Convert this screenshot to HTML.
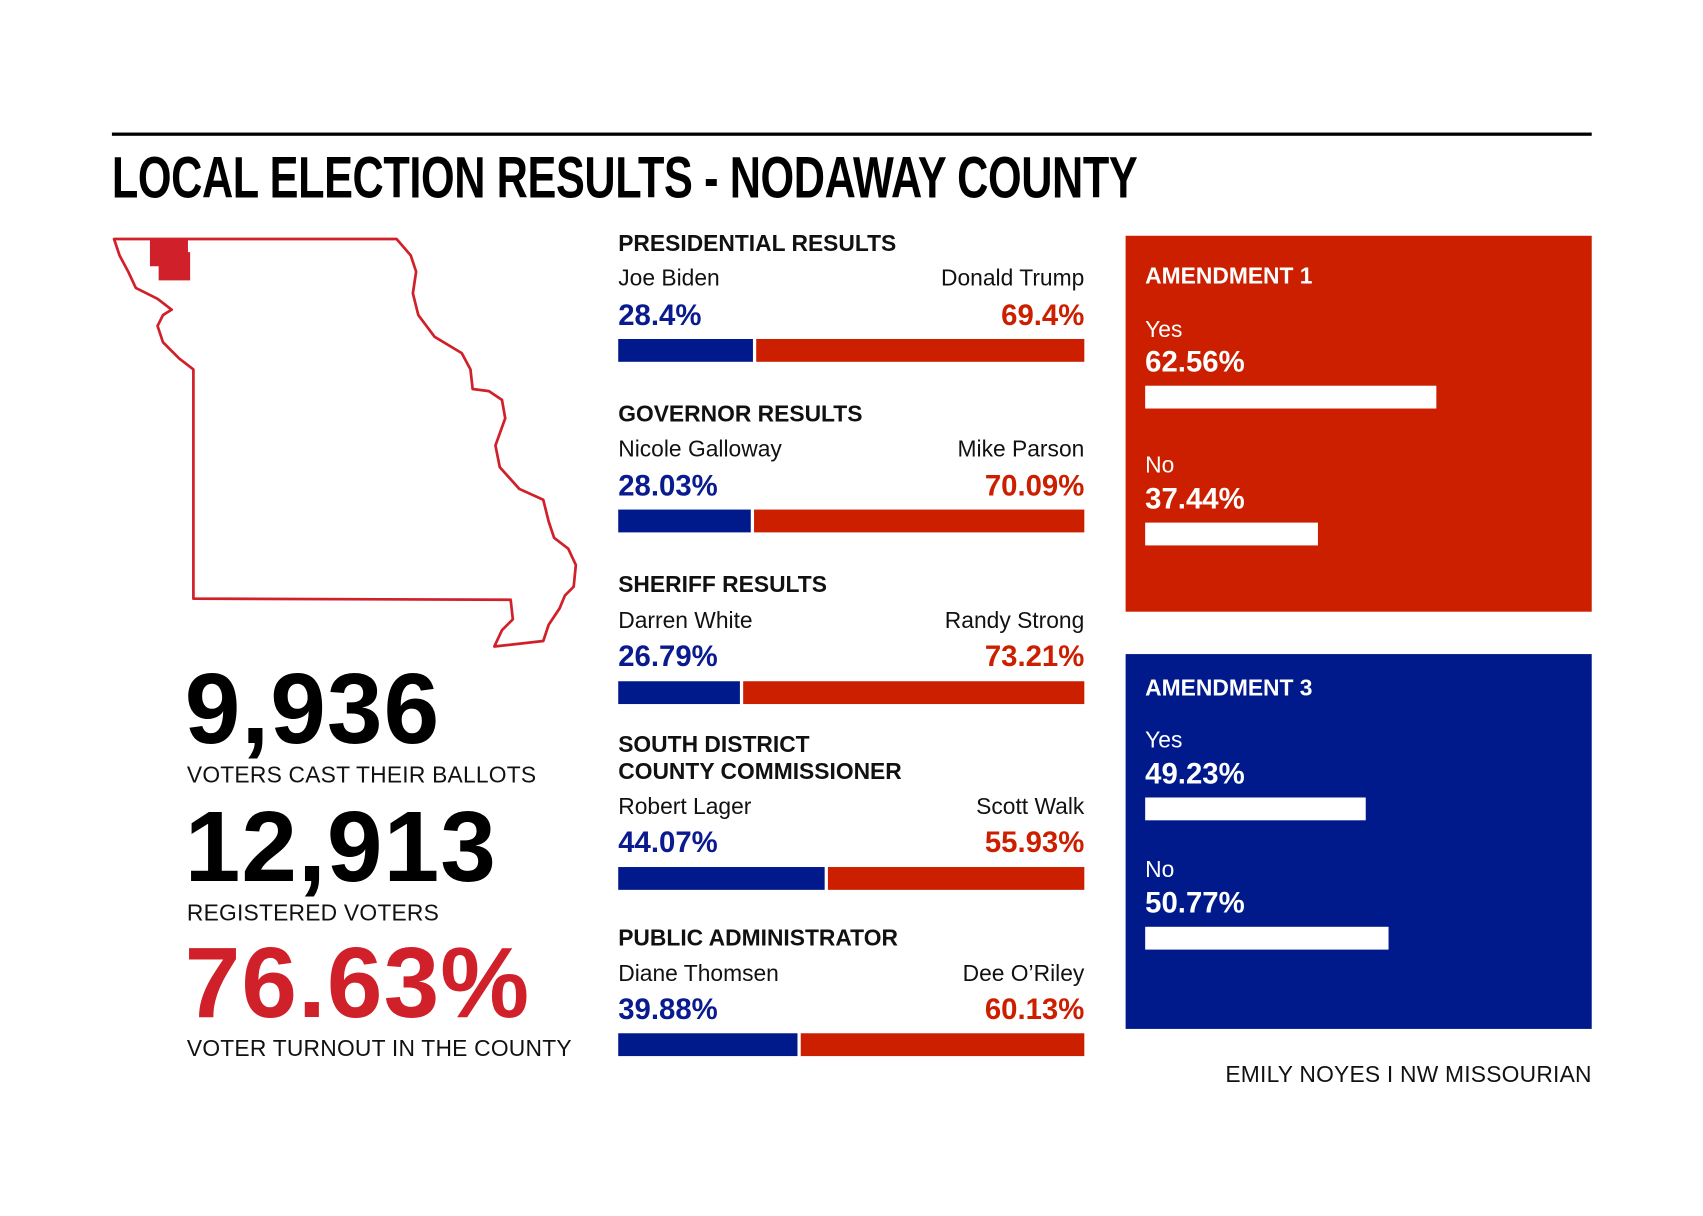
<!DOCTYPE html>
<html><head><meta charset="utf-8"><style>
html,body{margin:0;padding:0;background:#fff;}
body{width:1703px;height:1216px;overflow:hidden;position:relative;}
#c{position:absolute;left:0;top:0;width:1560px;height:1114px;transform:scale(1.0865);transform-origin:0 0;font-family:"Liberation Sans",Arial,sans-serif;}
.t{position:absolute;white-space:nowrap;line-height:1;}
.h{font-weight:bold;font-size:21px;color:#111;}
.n{font-size:21px;color:#111;}
.p{font-weight:bold;font-size:27px;}
.b{color:#0a1a8f;} .r{color:#cc1f00;}
.bar{position:absolute;height:21px;}
.bb{background:#001a8c;} .rb{background:#cc1f00;}
.big{font-weight:bold;font-size:92px;letter-spacing:1px;color:#000;}
.lab{font-size:21px;color:#111;letter-spacing:0.2px;}
.w{color:#fff;}
.wb{position:absolute;background:#fff;height:21px;left:1054px;}
</style></head><body><div id="c">
<div style="position:absolute;left:103px;top:122px;width:1362px;height:3px;background:#000"></div>
<div class="t" style="left:103px;top:137px;font-weight:bold;font-size:54px;transform:scaleX(0.737);transform-origin:0 0;letter-spacing:-0.5px">LOCAL ELECTION RESULTS - NODAWAY COUNTY</div>

<svg style="position:absolute;left:0;top:0" width="560" height="610">
<polygon fill="#fff" stroke="#d0202a" stroke-width="2.5" stroke-linejoin="round" points="105,220 365,220 378,235 383,250 380,270 385,290 400,310 425,325 433,340 435,358 450,360 462,368 465,385 456,410 460,430 478,450 500,460 505,480 510,495 523,505 530,520 528,540 520,548 515,560 505,575 500,590 455,595 462,580 472,570 470,552 178,551 178,340 165,330 150,315 145,300 150,290 158,285 145,275 125,265 118,250 110,235"/>
<polygon fill="#d0202a" points="138,220 173,220 173,232 175,232 175,258 146,258 146,245 138,245"/>
</svg>

<div class="t big" style="left:170px;top:607px">9,936</div>
<div class="t lab" style="left:172px;top:703px">VOTERS CAST THEIR BALLOTS</div>
<div class="t big" style="left:170px;top:734px">12,913</div>
<div class="t lab" style="left:172px;top:830px">REGISTERED VOTERS</div>
<div class="t big" style="left:170px;top:859px;color:#d0202a">76.63%</div>
<div class="t lab" style="left:172px;top:955px">VOTER TURNOUT IN THE COUNTY</div>

<div class="t h" style="left:569px;top:214px">PRESIDENTIAL RESULTS</div>
<div class="t n" style="left:569px;top:246px">Joe Biden</div>
<div class="t n" style="right:562px;top:246px">Donald Trump</div>
<div class="t p b" style="left:569px;top:277px">28.4%</div>
<div class="t p r" style="right:562px;top:277px">69.4%</div>
<div class="bar bb" style="left:569px;top:312px;width:124px"></div>
<div class="bar rb" style="left:696px;top:312px;width:302px"></div>

<div class="t h" style="left:569px;top:371px">GOVERNOR RESULTS</div>
<div class="t n" style="left:569px;top:403px">Nicole Galloway</div>
<div class="t n" style="right:562px;top:403px">Mike Parson</div>
<div class="t p b" style="left:569px;top:434px">28.03%</div>
<div class="t p r" style="right:562px;top:434px">70.09%</div>
<div class="bar bb" style="left:569px;top:469px;width:122px"></div>
<div class="bar rb" style="left:694px;top:469px;width:304px"></div>

<div class="t h" style="left:569px;top:528px">SHERIFF RESULTS</div>
<div class="t n" style="left:569px;top:561px">Darren White</div>
<div class="t n" style="right:562px;top:561px">Randy Strong</div>
<div class="t p b" style="left:569px;top:591px">26.79%</div>
<div class="t p r" style="right:562px;top:591px">73.21%</div>
<div class="bar bb" style="left:569px;top:627px;width:112px"></div>
<div class="bar rb" style="left:684px;top:627px;width:314px"></div>

<div class="t h" style="left:569px;top:675px">SOUTH DISTRICT</div>
<div class="t h" style="left:569px;top:700px">COUNTY COMMISSIONER</div>
<div class="t n" style="left:569px;top:732px">Robert Lager</div>
<div class="t n" style="right:562px;top:732px">Scott Walk</div>
<div class="t p b" style="left:569px;top:762px">44.07%</div>
<div class="t p r" style="right:562px;top:762px">55.93%</div>
<div class="bar bb" style="left:569px;top:798px;width:190px"></div>
<div class="bar rb" style="left:762px;top:798px;width:236px"></div>

<div class="t h" style="left:569px;top:853px">PUBLIC ADMINISTRATOR</div>
<div class="t n" style="left:569px;top:886px">Diane Thomsen</div>
<div class="t n" style="right:562px;top:886px">Dee O’Riley</div>
<div class="t p b" style="left:569px;top:916px">39.88%</div>
<div class="t p r" style="right:562px;top:916px">60.13%</div>
<div class="bar bb" style="left:569px;top:951px;width:165px"></div>
<div class="bar rb" style="left:737px;top:951px;width:261px"></div>

<div style="position:absolute;left:1036px;top:217px;width:429px;height:346px;background:#cc1f00"></div>
<div class="t h w" style="left:1054px;top:244px">AMENDMENT 1</div>
<div class="t n w" style="left:1054px;top:293px">Yes</div>
<div class="t p w" style="left:1054px;top:320px">62.56%</div>
<div class="wb" style="top:355px;width:268px"></div>
<div class="t n w" style="left:1054px;top:418px">No</div>
<div class="t p w" style="left:1054px;top:446px">37.44%</div>
<div class="wb" style="top:481px;width:159px"></div>

<div style="position:absolute;left:1036px;top:602px;width:429px;height:345px;background:#001a8c"></div>
<div class="t h w" style="left:1054px;top:623px">AMENDMENT 3</div>
<div class="t n w" style="left:1054px;top:671px">Yes</div>
<div class="t p w" style="left:1054px;top:699px">49.23%</div>
<div class="wb" style="top:734px;width:203px"></div>
<div class="t n w" style="left:1054px;top:790px">No</div>
<div class="t p w" style="left:1054px;top:818px">50.77%</div>
<div class="wb" style="top:853px;width:224px"></div>

<div class="t lab" style="right:95px;top:979px">EMILY NOYES I NW MISSOURIAN</div>
</div></body></html>
